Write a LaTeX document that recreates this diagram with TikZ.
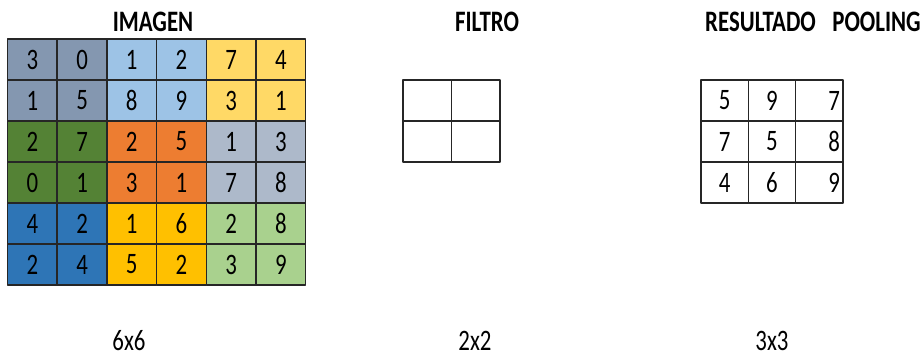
\documentclass[tikz,border=0pt]{standalone}
\usepackage{fontspec}
\usepackage{graphicx}
\setmainfont{Carlito}
\usetikzlibrary{positioning}
\definecolor{PoolSlate}{HTML}{8497B0}
\definecolor{PoolSky}{HTML}{9DC3E6}
\definecolor{PoolSand}{HTML}{FFD966}
\definecolor{PoolGreen}{HTML}{548235}
\definecolor{PoolOrange}{HTML}{ED7D31}
\definecolor{PoolMist}{HTML}{ADB9CA}
\definecolor{PoolBlue}{HTML}{2E75B6}
\definecolor{PoolGold}{HTML}{FFC000}
\definecolor{PoolLeaf}{HTML}{A9D18E}
\newcommand\tallnum[1]{\scalebox{1}[1.3]{#1}}

\begin{document}
\begin{tikzpicture}[x=0.02cm,y=-0.02cm,line join=round,
  cell/.style={draw=black!85,line width=0.9pt,inner sep=0pt,minimum width=0.994cm,minimum height=0.82cm,font=\fontsize{13}{15}\selectfont},
  fcell/.style={cell,minimum width=0.97cm},
  pcell/.style={cell,minimum width=0.946cm},
  rcell/.style={pcell,inner xsep=0.06cm,text width=0.826cm,align=right},
  title/.style={inner sep=1pt,font=\bfseries\fontsize{13}{15}\selectfont},
  dims/.style={inner sep=0pt,font=\fontsize{13}{15}\selectfont}]
  \useasboundingbox (0,0) rectangle (922,358);
  % imagen 6x6
  \foreach \r/\vals/\ca/\cb/\cc in {
      1/{3,0,1,2,7,4}/PoolSlate/PoolSky/PoolSand,
      2/{1,5,8,9,3,1}/PoolSlate/PoolSky/PoolSand,
      3/{2,7,2,5,1,3}/PoolGreen/PoolOrange/PoolMist,
      4/{0,1,3,1,7,8}/PoolGreen/PoolOrange/PoolMist,
      5/{4,2,1,6,2,8}/PoolBlue/PoolGold/PoolLeaf,
      6/{2,4,5,2,3,9}/PoolBlue/PoolGold/PoolLeaf}{
    \foreach \v [count=\c] in \vals{
      \ifnum\c<3 \def\fc{\ca}\else\ifnum\c<5 \def\fc{\cb}\else\def\fc{\cc}\fi\fi
      \node[cell,fill=\fc] (img-\r-\c) at ({7.5+49.7*(\c-0.5)},{39+41*(\r-0.5)}) {\tallnum{\v}};
    }
  }
  % filtro 2x2
  \foreach \r in {1,2}{
    \foreach \c in {1,2}{
      \node[fcell] (fil-\r-\c) at ({403+48.5*(\c-0.5)},{80+41*(\r-0.5)}) {};
    }
  }
  % resultado 3x3
  \foreach \r/\vals in {1/{5,9,7},2/{7,5,8},3/{4,6,9}}{
    \foreach \v [count=\c] in \vals{
      \ifnum\c=3 \def\cs{rcell}\else\def\cs{pcell}\fi
      \node[\cs] (res-\r-\c) at ({701+47.3*(\c-0.5)},{80+41*(\r-0.5)}) {\tallnum{\v}};
    }
  }
  \node[title] (t-img) at (153,22) {\tallnum{IMAGEN}};
  \node[title] (t-fil) at (487,22) {\tallnum{FILTRO}};
  \node[title] (t-res) at (813,22) {\tallnum{RESULTADO\hspace{0.33cm}POOLING}};
  \node[dims] (d-img) at (129,341) {\tallnum{6x6}};
  \node[dims] (d-fil) at (475,341) {\tallnum{2x2}};
  \node[dims] (d-res) at (772,341) {\tallnum{3x3}};
\end{tikzpicture}
\end{document}
